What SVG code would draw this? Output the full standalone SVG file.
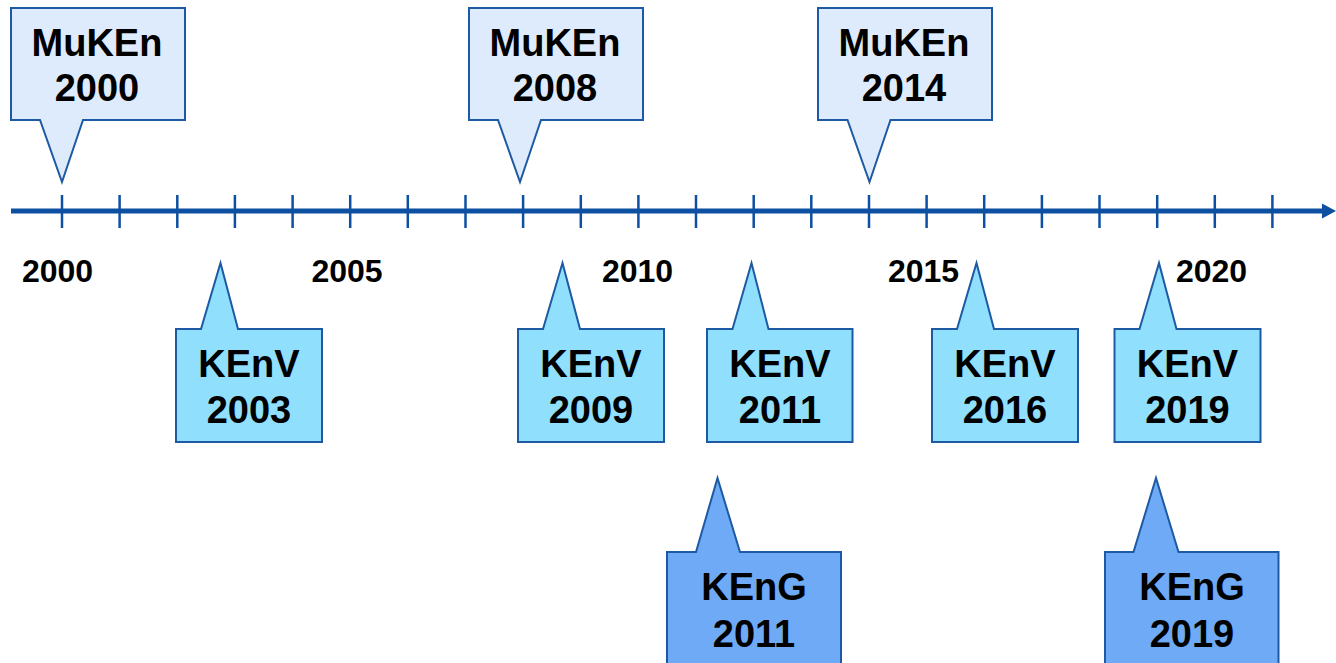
<svg xmlns="http://www.w3.org/2000/svg" width="1336" height="663" viewBox="0 0 1336 663">
<style>
.co{stroke:#1d5aa3;stroke-width:2;stroke-linejoin:miter}
.mu{fill:#deebfc}
.kv{fill:#8fdffd}
.kg{fill:#6eaaf6}
.lbl{font-family:"Liberation Sans",Arial,sans-serif;font-weight:bold;font-size:38px;fill:#000;text-anchor:middle}
.yr{font-family:"Liberation Sans",Arial,sans-serif;font-weight:bold;font-size:32px;fill:#000;text-anchor:middle}
.tick{stroke:#0d4fa0;stroke-width:2.5}
</style>
<rect width="1336" height="663" fill="#fff"/>
<g id="axis">
<line x1="11" y1="211" x2="1326" y2="211" stroke="#0d4fa0" stroke-width="5"/>
<polygon points="1336,211 1322,203.5 1322,218.5" fill="#0d4fa0"/>
<g class="tick">
<line x1="62" y1="195" x2="62" y2="228"/>
<line x1="119.6" y1="195" x2="119.6" y2="228"/>
<line x1="177.3" y1="195" x2="177.3" y2="228"/>
<line x1="234.9" y1="195" x2="234.9" y2="228"/>
<line x1="292.6" y1="195" x2="292.6" y2="228"/>
<line x1="350.2" y1="195" x2="350.2" y2="228"/>
<line x1="407.8" y1="195" x2="407.8" y2="228"/>
<line x1="465.5" y1="195" x2="465.5" y2="228"/>
<line x1="523.1" y1="195" x2="523.1" y2="228"/>
<line x1="580.8" y1="195" x2="580.8" y2="228"/>
<line x1="638.4" y1="195" x2="638.4" y2="228"/>
<line x1="696" y1="195" x2="696" y2="228"/>
<line x1="753.7" y1="195" x2="753.7" y2="228"/>
<line x1="811.3" y1="195" x2="811.3" y2="228"/>
<line x1="869" y1="195" x2="869" y2="228"/>
<line x1="926.6" y1="195" x2="926.6" y2="228"/>
<line x1="984.2" y1="195" x2="984.2" y2="228"/>
<line x1="1041.9" y1="195" x2="1041.9" y2="228"/>
<line x1="1099.5" y1="195" x2="1099.5" y2="228"/>
<line x1="1157.2" y1="195" x2="1157.2" y2="228"/>
<line x1="1214.8" y1="195" x2="1214.8" y2="228"/>
<line x1="1272.4" y1="195" x2="1272.4" y2="228"/>
</g>
<text class="yr" x="57.5" y="282">2000</text>
<text class="yr" x="347" y="282">2005</text>
<text class="yr" x="637.5" y="282">2010</text>
<text class="yr" x="923.5" y="282">2015</text>
<text class="yr" x="1211.5" y="282">2020</text>
</g>
<g id="muken2000">
<path class="co mu" d="M11,8 H185 V120 H83 L62,182 L40,120 H11 Z"/>
<text class="lbl" x="97" y="56">MuKEn</text>
<text class="lbl" x="97" y="101">2000</text>
</g>
<g id="muken2008">
<path class="co mu" d="M469,8 H643 V120 H541 L520,182 L498,120 H469 Z"/>
<text class="lbl" x="555" y="56">MuKEn</text>
<text class="lbl" x="555" y="101">2008</text>
</g>
<g id="muken2014">
<path class="co mu" d="M818,8 H992 V120 H890.5 L869.5,182 L847.5,120 H818 Z"/>
<text class="lbl" x="904" y="56">MuKEn</text>
<text class="lbl" x="904" y="101">2014</text>
</g>
<g id="kenv2003">
<path class="co kv" d="M176,442 V329 H201 L220.5,263 L238,329 H322 V442 Z"/>
<text class="lbl" x="249" y="377">KEnV</text>
<text class="lbl" x="249" y="423">2003</text>
</g>
<g id="kenv2009">
<path class="co kv" d="M518,442 V329 H543 L562.5,263 L580,329 H664 V442 Z"/>
<text class="lbl" x="591" y="377">KEnV</text>
<text class="lbl" x="591" y="423">2009</text>
</g>
<g id="kenv2011">
<path class="co kv" d="M707,442 V329 H732.5 L751.5,263 L768.5,329 H852.5 V442 Z"/>
<text class="lbl" x="780" y="377">KEnV</text>
<text class="lbl" x="780" y="423">2011</text>
</g>
<g id="kenv2016">
<path class="co kv" d="M932,442 V329 H957 L976.5,263 L994,329 H1078 V442 Z"/>
<text class="lbl" x="1005" y="377">KEnV</text>
<text class="lbl" x="1005" y="423">2016</text>
</g>
<g id="kenv2019">
<path class="co kv" d="M1114.5,442 V329 H1139.5 L1159,263 L1176.5,329 H1260.5 V442 Z"/>
<text class="lbl" x="1187.5" y="377">KEnV</text>
<text class="lbl" x="1187.5" y="423">2019</text>
</g>
<g id="keng2011">
<path class="co kg" d="M667,690 V552 H696 L717.5,478 L740,552 H841 V690 Z"/>
<text class="lbl" x="754" y="600">KEnG</text>
<text class="lbl" x="754" y="647">2011</text>
</g>
<g id="keng2019">
<path class="co kg" d="M1105,690 V552 H1133.5 L1156,478 L1178.5,552 H1278.5 V690 Z"/>
<text class="lbl" x="1192" y="600">KEnG</text>
<text class="lbl" x="1192" y="647">2019</text>
</g>
</svg>
